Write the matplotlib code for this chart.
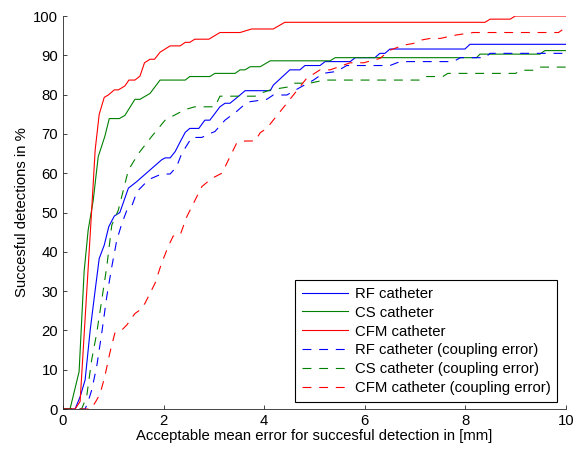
import matplotlib

matplotlib.use("Agg")

import matplotlib.pyplot as plt

# accepted mean error in mm vs share of successful detections in %
rf_x = [0, 0.24, 0.34, 0.44, 0.54, 0.64, 0.72, 0.82, 0.91, 1.02, 1.13, 1.3, 1.46, 1.96, 2.03, 2.13,
        2.23, 2.33, 2.43, 2.52, 2.7, 2.82, 2.92, 3.02, 3.12, 3.22, 3.32, 3.52, 3.62, 4.12, 4.18, 4.51,
        4.71, 4.81, 5.11, 5.21, 5.71, 5.81, 6.2, 6.3, 6.4, 6.5, 7.99, 8.09, 10]
rf_y = [0, 0, 3.1, 7.4, 20, 30.3, 38.3, 41.7, 46.4, 49.1, 50, 56.2, 57.8, 63.4, 63.9, 63.9,
        65.5, 68, 70.4, 71.4, 71.4, 73.5, 73.5, 75.2, 76.9, 77.8, 77.8, 79.9, 81, 81, 82.4, 86.3,
        86.3, 87.4, 87.4, 88.4, 88.4, 89.4, 89.4, 90.5, 90.5, 91.6, 91.6, 92.8, 92.8]

cs_x = [0, 0.14, 0.32, 0.42, 0.5, 0.6, 0.7, 0.83, 0.92, 1.12, 1.23, 1.43, 1.53, 1.73, 1.93, 2.43,
        2.52, 2.92, 3.02, 3.42, 3.52, 3.62, 3.72, 3.92, 4.12, 5.31, 5.41, 8.22, 8.29, 9.48, 9.58, 10]
cs_y = [0, 0, 9.5, 35, 45.5, 53, 64.2, 69.3, 73.9, 73.9, 74.7, 78.8, 78.8, 80.3, 83.7, 83.7,
        84.6, 84.6, 85.4, 85.4, 86.3, 86.3, 87.1, 87.1, 88.6, 88.6, 89.4, 89.4, 90.3, 90.3, 91.2, 91.2]

cfm_x = [0, 0.24, 0.34, 0.57, 0.64, 0.72, 0.82, 0.9, 1.02, 1.1, 1.23, 1.31, 1.43, 1.53, 1.62, 1.73,
         1.82, 1.93, 2.13, 2.33, 2.43, 2.52, 2.62, 2.9, 3.12, 3.52, 3.75, 4.18, 4.41, 8.39, 8.49,
         8.89, 8.99, 10]
cfm_y = [0, 0, 1.9, 50.6, 66, 75, 79.3, 79.9, 81.2, 81.2, 82.2, 83.7, 83.7, 84.7, 88.1, 89,
         89, 90.8, 92.4, 92.4, 93.3, 93.3, 94.1, 94.1, 95.8, 95.8, 96.7, 96.7, 98.4, 98.4, 99.2,
         99.2, 100, 100]

rf_c_x = [0, 0.44, 0.5, 0.57, 0.67, 0.77, 0.87, 0.97, 1.07, 1.17, 1.27, 1.37, 1.47, 1.63, 1.76,
          1.96, 2.13, 2.26, 2.36, 2.56, 2.76, 2.92, 3.02, 3.22, 3.45, 3.62, 3.72, 4.05, 4.18, 4.45,
          4.71, 4.98, 5.17, 5.44, 5.64, 6.5, 6.7, 7.76, 7.9, 8.39, 8.49, 10]
rf_c_y = [0, 0, 1.9, 4.8, 10.8, 19.3, 28.6, 36.2, 43, 47.2, 50.6, 51.7, 55.3, 57.4, 58.7,
          59.8, 59.8, 61.7, 65, 69.1, 69.1, 70.1, 70.6, 73.5, 75.7, 77.6, 78.2, 78.8, 79.9, 79.9,
          81.8, 83.7, 85.4, 85.9, 87.4, 87.4, 88.4, 88.4, 89.4, 89.4, 90.5, 90.5]

cs_c_x = [0, 0.37, 0.47, 0.57, 0.67, 0.77, 0.87, 0.97, 1.1, 1.3, 1.5, 1.76, 2.03, 2.19, 2.43, 2.62,
          3.02, 3.12, 3.82, 3.92, 4.12, 4.5, 4.6, 4.9, 5.2, 7.1, 7.2, 7.55, 7.65, 9.0, 9.1, 9.35,
          9.45, 10]
cs_c_y = [0, 0, 3.1, 12.5, 19.3, 27.7, 36.2, 46.8, 50.6, 60.8, 65, 69.3, 73.5, 74.6, 76.2, 76.9,
          76.9, 79.6, 79.6, 80.3, 81.2, 82, 82.9, 82.9, 83.7, 83.7, 84.6, 84.6, 85.4, 85.4, 86.2, 86.2,
          87, 87]

cfm_c_x = [0, 0.56, 0.67, 0.74, 0.83, 0.93, 1.03, 1.17, 1.27, 1.43, 1.53, 1.63, 1.83, 1.96, 2.09,
           2.19, 2.33, 2.46, 2.62, 2.76, 2.96, 3.16, 3.32, 3.45, 3.62, 3.82, 3.92, 4.05, 4.18, 4.45,
           4.84, 5.11, 5.31, 5.71, 5.98, 6.17, 6.3, 6.5, 6.77, 6.96, 7.13, 7.3, 7.5, 7.83, 8.16,
           9.85, 9.95, 10]
cfm_c_y = [0, 0, 2.3, 4, 8.2, 14.2, 19.3, 20.1, 21.4, 24.3, 25.2, 26.9, 32, 37.1, 41.3,
           44, 44.3, 48.9, 53, 56.6, 58.7, 60, 64.2, 67.6, 68.2, 68.2, 70.3, 71.4, 73.5, 77.8,
           84.1, 86.3, 86.3, 88.1, 88.1, 88.8, 89.2, 91.3, 92.6, 93, 93.9, 94.3, 94.3, 95.2, 95.8,
           95.8, 96.7, 96.7]

BLUE = "#0000ff"
GREEN = "#008000"
RED = "#ff0000"

plt.rcParams.update({
    "font.family": "Liberation Sans",
    "font.size": 10.7,
})

fig = plt.figure(figsize=(5.79, 4.51), dpi=100)
ax = fig.add_axes([0.1088, 0.0931, 0.8688, 0.8714])

lw = 0.8
dash = (0, (8, 7))
ax.plot(rf_x, rf_y, color=BLUE, lw=lw, label="RF catheter")
ax.plot(cs_x, cs_y, color=GREEN, lw=lw, label="CS catheter")
ax.plot(cfm_x, cfm_y, color=RED, lw=lw, label="CFM catheter")
ax.plot(rf_c_x, rf_c_y, color=BLUE, lw=lw, linestyle=dash, label="RF catheter (coupling error)")
ax.plot(cs_c_x, cs_c_y, color=GREEN, lw=lw, linestyle=dash, label="CS catheter (coupling error)")
ax.plot(cfm_c_x, cfm_c_y, color=RED, lw=lw, linestyle=dash, label="CFM catheter (coupling error)")

ax.set_xlim(0, 10)
ax.set_ylim(0, 100)
ax.set_xticks(range(0, 11, 2))
ax.set_yticks(range(0, 101, 10))
ax.tick_params(direction="in", length=3, width=0.6, colors="#262626", labelcolor="black")
for side in ["top", "right"]:
    ax.spines[side].set_visible(False)
for side in ["left", "bottom"]:
    ax.spines[side].set_linewidth(0.6)
    ax.spines[side].set_color("#262626")

ax.set_xlabel("Acceptable mean error for succesful detection in [mm]", labelpad=1)
ax.set_ylabel("Succesful detections in %", labelpad=3)

leg = ax.legend(loc="lower right", bbox_to_anchor=(0.982, 0.018), fancybox=False,
                edgecolor="black", framealpha=1, handlelength=3.1, labelspacing=0.33,
                borderpad=0.45, handletextpad=0.45, borderaxespad=0)
leg.get_frame().set_linewidth(0.8)

fig.savefig("out.png", dpi=100)
